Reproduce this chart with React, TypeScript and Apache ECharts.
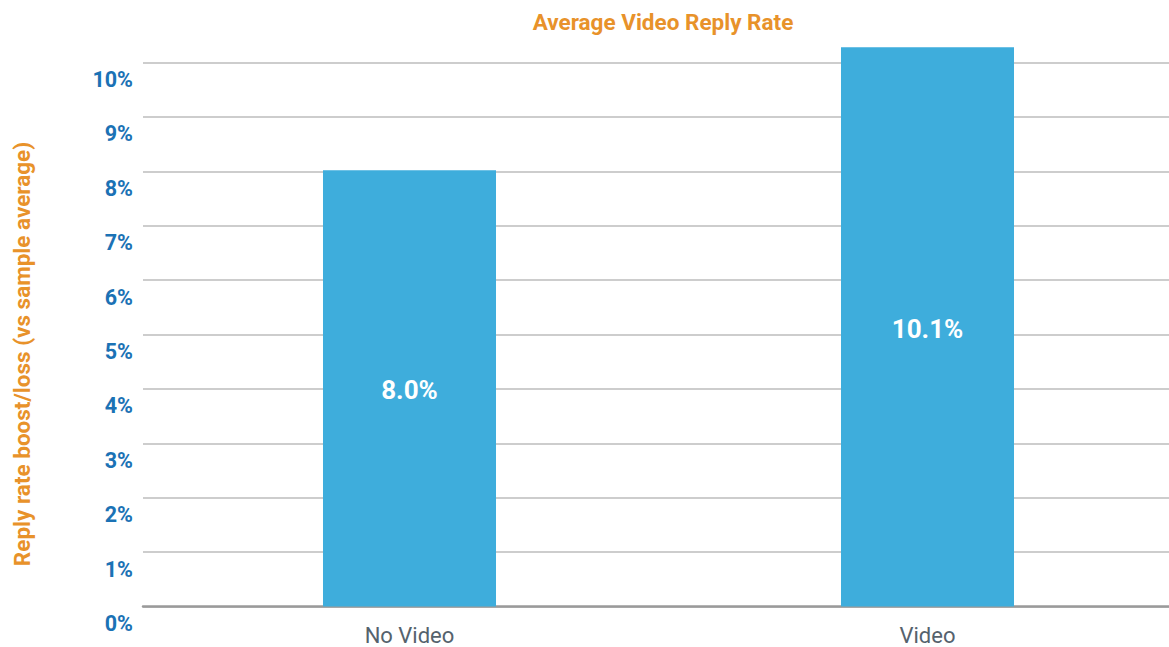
import React, { useEffect, useRef } from "react";
import * as echarts from "echarts";

const categories = ["No Video", "Video"];
const replyRates = [8.02, 10.28];
const barLabels = ["8.0%", "10.1%"];
const yTicks = [0, 1, 2, 3, 4, 5, 6, 7, 8, 9, 10];

const CHART_W = 1200;

export default function App() {
  const ref = useRef<HTMLDivElement>(null);
  useEffect(() => {
    if (!ref.current) return;
    const chart = echarts.init(ref.current, undefined, { renderer: "svg" });
    const font = "Roboto, 'Noto Sans', sans-serif";
    chart.setOption({
      animation: false,
      backgroundColor: "#ffffff",
      title: {
        text: "Average Video Reply Rate",
        left: 658,
        top: 5,
        textAlign: "center",
        textStyle: { color: "#e8922a", fontSize: 22.5, fontWeight: "bold", fontFamily: font },
      },
      graphic: [
        {
          type: "text",
          x: 22,
          y: 354,
          rotation: Math.PI / 2,
          style: {
            text: "Reply rate boost/loss (vs sample average)",
            fill: "#e8922a",
            font: `bold 22.5px ${font}`,
            align: "center",
            verticalAlign: "middle",
          },
        },
      ],
      grid: [
        { left: 143, right: CHART_W - 1169, top: 62.5, bottom: 40.5 },
        { left: 150.5, right: CHART_W - 1186.5, top: 62.5, bottom: 40.5 },
      ],
      xAxis: [
        {
          type: "category",
          gridIndex: 0,
          data: categories,
          axisLine: { show: true, lineStyle: { color: "#9a9a9a", width: 2.5 } },
          axisTick: { show: false },
          axisLabel: { show: false },
          splitLine: { show: false },
        },
        {
          type: "category",
          gridIndex: 1,
          data: categories,
          axisLine: { show: false },
          axisTick: { show: false },
          axisLabel: { color: "#55626d", fontSize: 22, fontFamily: font, margin: 18 },
        },
      ],
      yAxis: [
        {
          type: "value",
          gridIndex: 0,
          min: yTicks[0],
          max: yTicks[yTicks.length - 1],
          interval: 1,
          axisLine: { show: false },
          axisTick: { show: false },
          axisLabel: {
            formatter: (v: number) => `${v}%`,
            color: "#1b72b5",
            fontSize: 21.5,
            fontWeight: "bold",
            fontFamily: font,
            margin: 10,
            verticalAlign: "top",
            padding: [6, 0, 0, 0],
          },
          splitLine: { show: true, lineStyle: { color: "#bdbdbd", width: 1.5 } },
        },
        {
          type: "value",
          gridIndex: 1,
          min: yTicks[0],
          max: yTicks[yTicks.length - 1],
          interval: 1,
          show: false,
          splitLine: { show: false },
        },
      ],
      series: [
        {
          type: "bar",
          xAxisIndex: 1,
          yAxisIndex: 1,
          data: replyRates,
          barWidth: "33.4%",
          clip: false,
          itemStyle: { color: "#3eaddc" },
          z: 5,
          label: {
            show: true,
            position: "inside",
            formatter: (p: any) => barLabels[p.dataIndex],
            color: "#ffffff",
            fontSize: 26,
            fontWeight: "bold",
            fontFamily: font,
            offset: [0, 2],
          },
        },
      ],
    });
    return () => chart.dispose();
  }, []);
  return (
    <div style={{ position: "absolute", left: 0, top: 0, width: 1169, height: 647, overflow: "hidden" }}>
      <div ref={ref} style={{ width: CHART_W, height: 647 }} />
    </div>
  );
}
